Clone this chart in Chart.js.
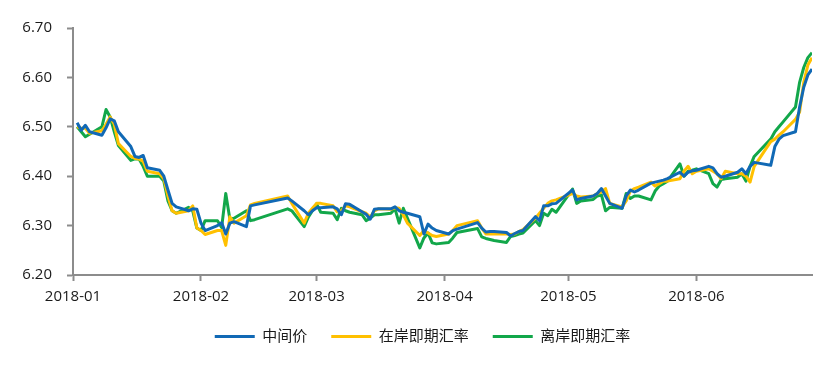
<!DOCTYPE html>
<html>
<head>
<meta charset="utf-8">
<script src="https://cdn.jsdelivr.net/npm/chart.js@4/dist/chart.umd.min.js"></script>
<style>
  html, body { margin: 0; padding: 0; background: #fff; }
  #wrap { width: 828px; height: 369px; }
</style>
</head>
<body>
<div id="wrap"><canvas id="fx-chart" width="828" height="369"></canvas></div>
<script>
// trading days, counted as days since 2018-01-01
const days = [1, 2, 3, 4, 7, 8, 9, 10, 11, 14, 15, 16, 17, 18, 21, 22, 23, 24, 25, 28, 29, 30, 31, 32,
    35, 36, 37, 38, 39, 42, 43, 44, 52, 53, 56, 57, 58, 59, 60, 63, 64, 65, 66, 67, 70, 71, 72, 73, 74,
    77, 78, 79, 80, 81, 84, 85, 86, 87, 88, 91, 92, 93, 98, 99, 100, 101, 102, 105, 106, 107, 108, 109,
    112, 113, 114, 115, 116, 117, 121, 122, 123, 126, 127, 128, 129, 130, 133, 134, 135, 136, 137,
    140, 141, 142, 143, 144, 147, 148, 149, 150, 151, 154, 155, 156, 157, 158, 161, 162, 163, 164, 165,
    169, 170, 171, 172, 175, 176, 177, 178, 179];

const midRate = [6.508, 6.493, 6.503, 6.490, 6.483, 6.498, 6.516, 6.512, 6.490, 6.460, 6.440, 6.438, 6.442, 6.417,
    6.412, 6.400, 6.372, 6.345, 6.338, 6.330, 6.334, 6.333, 6.305, 6.290, 6.300, 6.306, 6.283, 6.305, 6.308,
    6.298, 6.340, 6.342, 6.356, 6.350, 6.330, 6.322, 6.330, 6.336, 6.336, 6.338, 6.334, 6.322, 6.344, 6.343,
    6.328, 6.323, 6.313, 6.333, 6.334, 6.334, 6.338, 6.330, 6.327, 6.325, 6.318, 6.283, 6.303, 6.295, 6.290,
    6.283, 6.290, 6.293, 6.306, 6.295, 6.287, 6.288, 6.288, 6.286, 6.279, 6.284, 6.288, 6.290,
    6.318, 6.310, 6.340, 6.340, 6.344, 6.345, 6.372, 6.352, 6.355, 6.360, 6.365, 6.375, 6.360, 6.345,
    6.335, 6.360, 6.372, 6.368, 6.372, 6.386, 6.388, 6.390, 6.392, 6.395, 6.408, 6.400, 6.408, 6.411, 6.412,
    6.420, 6.417, 6.405, 6.398, 6.400, 6.408, 6.415, 6.405, 6.420, 6.428,
    6.422, 6.460, 6.475, 6.482, 6.490, 6.540, 6.580, 6.605, 6.617];

const onshore = [6.500, 6.497, 6.497, 6.487, 6.492, 6.505, 6.520, 6.505, 6.466, 6.440, 6.436, 6.435, 6.430, 6.410,
    6.405, 6.395, 6.360, 6.330, 6.325, 6.330, 6.340, 6.295, 6.290, 6.282, 6.290, 6.290, 6.260, 6.318, 6.305,
    6.320, 6.342, 6.345, 6.360, 6.345, 6.305, 6.325, 6.335, 6.345, 6.345, 6.340, 6.328, 6.330, 6.340, 6.338,
    6.328, 6.325, 6.317, 6.330, 6.334, 6.333, 6.336, 6.335, 6.322, 6.305, 6.280, 6.290, 6.285, 6.280, 6.278,
    6.283, 6.290, 6.300, 6.310, 6.295, 6.283, 6.283, 6.283, 6.283, 6.282, 6.283, 6.288, 6.292,
    6.315, 6.325, 6.335, 6.345, 6.350, 6.352, 6.365, 6.360, 6.358, 6.360, 6.365, 6.368, 6.375, 6.345,
    6.338, 6.350, 6.370, 6.375, 6.378, 6.388, 6.380, 6.385, 6.390, 6.390, 6.395, 6.410, 6.420, 6.405, 6.410,
    6.415, 6.410, 6.405, 6.395, 6.410, 6.405, 6.405, 6.400, 6.388, 6.420,
    6.470, 6.475, 6.483, 6.490, 6.515, 6.530, 6.590, 6.625, 6.640];

const offshore = [6.500, 6.490, 6.480, 6.485, 6.500, 6.535, 6.520, 6.490, 6.462, 6.432, 6.435, 6.435, 6.420, 6.400,
    6.400, 6.390, 6.350, 6.330, 6.325, 6.337, 6.330, 6.295, 6.290, 6.310, 6.310, 6.296, 6.365, 6.313, 6.315,
    6.330, 6.310, 6.312, 6.334, 6.330, 6.298, 6.317, 6.330, 6.344, 6.327, 6.325, 6.312, 6.335, 6.330, 6.327,
    6.322, 6.310, 6.315, 6.322, 6.322, 6.325, 6.334, 6.305, 6.335, 6.315, 6.255, 6.275, 6.285, 6.265, 6.263,
    6.266, 6.275, 6.286, 6.294, 6.277, 6.274, 6.272, 6.270, 6.266, 6.278, 6.280, 6.283, 6.285,
    6.310, 6.300, 6.325, 6.320, 6.333, 6.327, 6.374, 6.345, 6.350, 6.353, 6.360, 6.362, 6.330, 6.337,
    6.335, 6.365, 6.355, 6.360, 6.360, 6.352, 6.370, 6.380, 6.385, 6.390, 6.425, 6.400, 6.410, 6.412, 6.415,
    6.405, 6.385, 6.378, 6.393, 6.395, 6.398, 6.405, 6.390, 6.420, 6.440,
    6.475, 6.490, 6.500, 6.510, 6.540, 6.590, 6.620, 6.640, 6.650];

const seriesNames = ['中间价', '在岸即期汇率', '离岸即期汇率'];

// x-axis ticks: first day of each month
const monthTicks = [0, 31, 59, 90, 120, 151];
const monthLabels = ['2018-01', '2018-02', '2018-03', '2018-04', '2018-05', '2018-06'];

const yTicks = [6.20, 6.30, 6.40, 6.50, 6.60, 6.70];

const fontFamily = '"Open Sans", "Noto Sans CJK SC", sans-serif';
const axisGray = '#8c8c8c';

function toPoints(values) {
    return values.map((v, i) => ({ x: days[i], y: v }));
}

function makeDataset(label, values, color) {
    return {
        label: label,
        data: toPoints(values),
        borderColor: color,
        backgroundColor: color,
        borderWidth: 3,
        pointRadius: 0,
        pointStyle: 'line',
        tension: 0,
        borderJoinStyle: 'round'
    };
}

// nudge the legend a little right, the way the original sits
const legendShift = {
    id: 'legendShift',
    afterLayout(chart) {
        chart.legend.left += 7;
        chart.legend.right += 7;
    }
};

const ctx = document.getElementById('fx-chart').getContext('2d');
const fxChart = new Chart(ctx, {
    type: 'line',
    data: {
        datasets: [
            makeDataset(seriesNames[0], midRate, '#1169b5'),
            makeDataset(seriesNames[1], onshore, '#ffc000'),
            makeDataset(seriesNames[2], offshore, '#12a74a')
        ]
    },
    plugins: [legendShift],
    options: {
        responsive: false,
        animation: false,
        layout: { padding: { left: 19, right: 16, top: 28, bottom: 15 } },
        scales: {
            x: {
                type: 'linear',
                min: 0,
                max: 179,
                afterBuildTicks: scale => {
                    scale.ticks = monthTicks.map(v => ({ value: v }));
                },
                afterFit: scale => {
                    scale.height = 30;
                },
                grid: {
                    drawOnChartArea: false,
                    color: axisGray,
                    tickLength: 6,
                    tickWidth: 2
                },
                border: { color: axisGray, width: 2 },
                ticks: {
                    autoSkip: false,
                    maxRotation: 0,
                    padding: 7,
                    color: '#1a1a1a',
                    font: { family: fontFamily, size: 15 },
                    callback: (value, index) => monthLabels[index]
                }
            },
            y: {
                min: 6.20,
                max: 6.70,
                afterBuildTicks: scale => {
                    scale.ticks = yTicks.map(v => ({ value: v }));
                },
                afterFit: scale => {
                    scale.width = 54;
                },
                grid: {
                    drawOnChartArea: false,
                    color: axisGray,
                    tickLength: 6,
                    tickWidth: 2
                },
                border: { color: axisGray, width: 2 },
                ticks: {
                    padding: 15,
                    color: '#1a1a1a',
                    font: { family: fontFamily, size: 15 },
                    callback: value => value.toFixed(2)
                }
            }
        },
        plugins: {
            legend: {
                position: 'bottom',
                labels: {
                    usePointStyle: true,
                    pointStyleWidth: 40,
                    padding: 24,
                    color: '#1a1a1a',
                    font: { family: fontFamily, size: 15 }
                }
            },
            tooltip: { enabled: false }
        }
    }
});
</script>
</body>
</html>
